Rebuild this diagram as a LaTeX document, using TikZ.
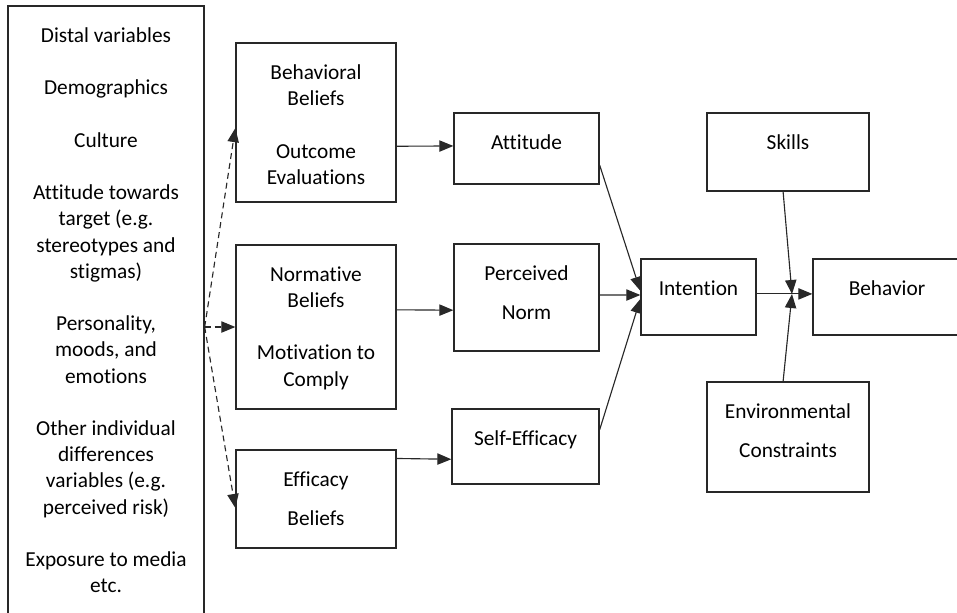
\documentclass[tikz,border=0pt]{standalone}
\usepackage{fontspec}
\setmainfont{Carlito}[Ligatures={NoCommon}]
\usetikzlibrary{arrows.meta,calc,fit}
\definecolor{ln}{RGB}{40,40,40}
\begin{document}
\begin{tikzpicture}[x=0.75pt,y=-0.75pt,
  box/.style={draw=ln, line width=1pt, inner sep=0pt, rectangle},
  txt/.style={align=center, inner sep=0pt, anchor=north,
    font=\fontsize{16}{19.65}\selectfont},
  wide/.style={font=\fontsize{16}{29.3}\selectfont},
  arr/.style={draw=ln, line width=0.85pt, -{Triangle[length=10.5pt,width=8.5pt]}},
  dsh/.style={arr, dash pattern=on 4.5pt off 3pt}]
\useasboundingbox (0,0) rectangle (957,612);

% boxes
\node[box, fit={(8,6) (204,616)}]    (ld)  {};
\node[box, fit={(236,43) (396,202)}]  (bb)  {};
\node[box, fit={(236,245) (396,409)}] (nb)  {};
\node[box, fit={(236,450) (396,548)}] (eb)  {};
\node[box, fit={(454,113) (599,184)}] (att) {};
\node[box, fit={(454,244) (599,351)}] (pn)  {};
\node[box, fit={(452,409) (599,484)}] (se)  {};
\node[box, fit={(641,259) (756,335)}] (int) {};
\node[box, fit={(707,113) (869,191)}] (sk)  {};
\node[box, fit={(707,382) (869,492)}] (env) {};
\node[box, fit={(813,259) (961,335)}] (beh) {};

% texts, set from the top of each box
\node[txt] (ldt) at ($(ld.north)+(0,22)$) {Distal variables\\[19.65pt]
  Demographics\\[19.65pt]
  Culture\\[19.65pt]
  Attitude towards\\target (e.g.\\stereotypes and\\stigmas)\\[19.65pt]
  Personality,\\moods, and\\emotions\\[19.65pt]
  Other individual\\differences\\variables (e.g.\\perceived risk)\\[19.65pt]
  Exposure to media\\etc.};
\node[txt] (bbt) at ($(bb.north)+(0,22)$) {Behavioral\\Beliefs\\[19.65pt]Outcome\\Evaluations};
\node[txt] (nbt) at ($(nb.north)+(0,22)$) {Normative\\Beliefs\\[19.65pt]Motivation to\\Comply};
\node[txt, wide] (ebt) at ($(eb.north)+(0,22)$) {Efficacy\\Beliefs};
\node[txt] (attt) at ($(att.north)+(0,22)$) {Attitude};
\node[txt, wide] (pnt) at ($(pn.north)+(0,22)$) {Perceived\\Norm};
\node[txt] (set) at ($(se.north)+(0,22)$) {Self-Efficacy};
\node[txt] (intt) at ($(int.north)+(0,22)$) {Intention};
\node[txt] (skt) at ($(sk.north)+(0,22)$) {Skills};
\node[txt, wide] (envt) at ($(env.north)+(0,22)$) {Environmental\\Constraints};
\node[txt] (beht) at ($(beh.north)+(0,22)$) {Behavior};

% dashed links from the distal variables
\coordinate (src) at (ld.east |- nb.west);
\draw[dsh] (src) -- ($(bb.south west)!0.465!(bb.north west)$);
\draw[dsh] (src) -- (nb.west);
\draw[dsh] (src) -- ($(eb.north west)!0.59!(eb.south west)$);

% beliefs to determinants
\draw[arr] ($(bb.north east)!0.648!(bb.south east)$) -- ($(att.north west)!0.465!(att.south west)$);
\draw[arr] ($(nb.north east)!0.396!(nb.south east)$) -- ($(pn.north west)!0.617!(pn.south west)$);
\draw[arr] ($(eb.north east)!0.092!(eb.south east)$) -- ($(se.north west)!0.667!(se.south west)$);

% determinants to intention
\draw[arr] ($(att.north east)!0.73!(att.south east)$) -- ($(int.north west)!0.42!(int.south west)$);
\draw[arr] ($(pn.north east)!0.477!(pn.south east)$) -- ($(int.north west)!0.474!(int.south west)$);
\draw[arr] ($(se.north east)!0.28!(se.south east)$) -- ($(int.north west)!0.526!(int.south west)$);

% intention to behavior, moderated by skills and constraints
\coordinate (meet) at (792,294);
\draw[arr] ($(int.north east)!0.46!(int.south east)$) -- ($(beh.north west)!0.46!(beh.south west)$);
\draw[arr] ($(sk.south west)!0.47!(sk.south east)$) -- (meet);
\draw[arr] ($(env.north west)!0.47!(env.north east)$) -- (meet);
\end{tikzpicture}
\end{document}
